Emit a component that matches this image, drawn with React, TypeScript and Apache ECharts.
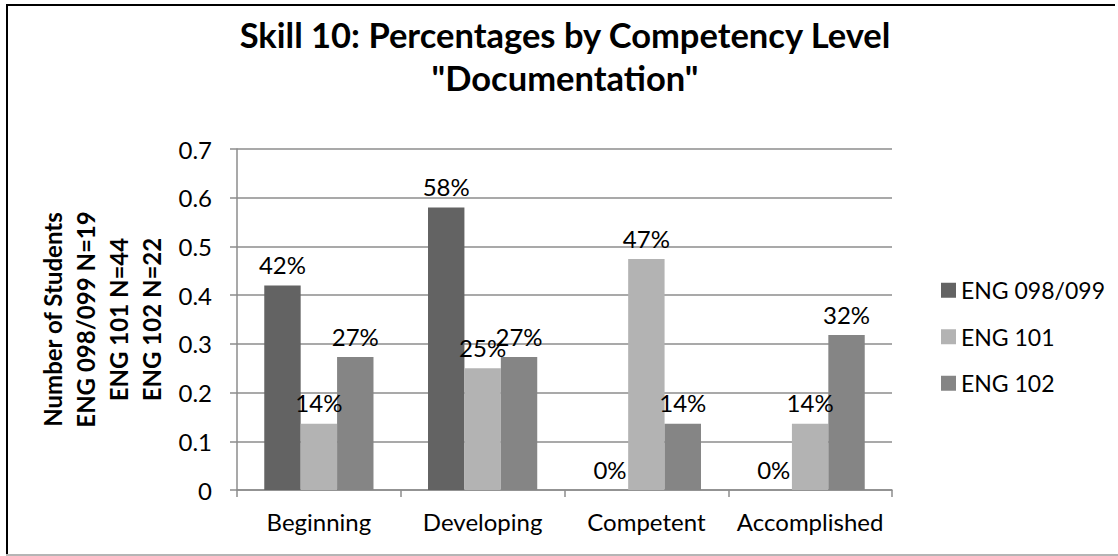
import React, { useEffect, useRef } from "react";
import * as echarts from "echarts";

const categories = ["Beginning", "Developing", "Competent", "Accomplished"];
const seriesNames = ["ENG 098/099", "ENG 101", "ENG 102"];
const eng098 = [0.42, 0.58, 0, 0];
const eng101 = [0.136, 0.25, 0.474, 0.136];
const eng102 = [0.273, 0.273, 0.136, 0.318];
const seriesColors = ["#636363", "#b3b3b3", "#858585"];
const titleLines = ["Skill 10: Percentages by Competency Level", '"Documentation"'];
const yAxisNameLines = ["Number of Students", "ENG 098/099 N=19", "ENG 101 N=44", "ENG 102 N=22"];

const FONT = "Lato, 'Open Sans', sans-serif";

export default function App() {
  const ref = useRef<HTMLDivElement>(null);
  useEffect(() => {
    if (!ref.current) return;
    const chart = echarts.init(ref.current, null, { renderer: "svg" });
    const data = [eng098, eng101, eng102];
    const gridColor = "#8c8c8c";
    chart.setOption({
      animation: false,
      backgroundColor: "#ffffff",
      textStyle: { fontFamily: FONT },
      title: {
        text: titleLines.join("\n"),
        left: 565,
        top: 13,
        padding: 0,
        textAlign: "center",
        textStyle: {
          fontFamily: FONT,
          fontSize: 34.5,
          fontWeight: "bold",
          color: "#000",
          lineHeight: 43,
        },
      },
      legend: {
        orient: "vertical",
        left: 936,
        top: 270,
        itemWidth: 15,
        itemHeight: 15,
        itemGap: 16,
        icon: "rect",
        data: seriesNames,
        textStyle: { fontFamily: FONT, fontSize: 23, color: "#000", lineHeight: 30.5, padding: [0, 0, 0, 0] },
      },
      grid: { left: 237, right: 226, top: 149, bottom: 66, containLabel: false },
      xAxis: {
        type: "category",
        data: categories,
        axisLine: { show: true, lineStyle: { color: gridColor, width: 1.5 } },
        axisTick: { show: true, length: 7, lineStyle: { color: gridColor, width: 1.5 } },
        axisLabel: { fontFamily: FONT, fontSize: 24, color: "#000", margin: 19, interval: 0 },
      },
      yAxis: {
        type: "value",
        min: 0,
        max: 0.7,
        interval: 0.1,
        name: yAxisNameLines.join("\n"),
        nameLocation: "middle",
        nameRotate: 90,
        nameGap: 64,
        nameTextStyle: { fontFamily: FONT, fontSize: 24, fontWeight: "bold", color: "#000", lineHeight: 33 },
        axisLine: { show: true, lineStyle: { color: gridColor, width: 1.5 } },
        axisTick: { show: true, length: 7, lineStyle: { color: gridColor, width: 1.5 } },
        splitLine: { show: true, lineStyle: { color: gridColor, width: 1.5 } },
        axisLabel: {
          fontFamily: FONT,
          fontSize: 24,
          color: "#000",
          margin: 25,
          formatter: (v: number) => (v === 0 ? "0" : v.toFixed(1)),
        },
      },
      series: seriesNames.map((name, i) => ({
        name,
        type: "bar",
        data: data[i],
        barGap: "0%",
        barCategoryGap: "33.3%",
        itemStyle: { color: seriesColors[i] },
        label: {
          show: true,
          position: "top",
          distance: 9,
          fontFamily: FONT,
          fontSize: 24,
          color: "#000",
          formatter: (p: any) => Math.round(p.value * 100) + "%",
        },
      })),
      graphic: [
        { type: "line", shape: { x1: 6, y1: 5, x2: 1115, y2: 5 }, style: { stroke: "#000", lineWidth: 2 } },
        { type: "line", shape: { x1: 7, y1: 4, x2: 7, y2: 556 }, style: { stroke: "#000", lineWidth: 2 } },
        { type: "line", shape: { x1: 6, y1: 555, x2: 1118, y2: 555 }, style: { stroke: "#b5b5b5", lineWidth: 2 } },
      ],
    });
    return () => chart.dispose();
  }, []);
  return (
    <div
      ref={ref}
      style={{ position: "absolute", left: 0, top: 0, width: 1118, height: 556, background: "#fff" }}
    />
  );
}
